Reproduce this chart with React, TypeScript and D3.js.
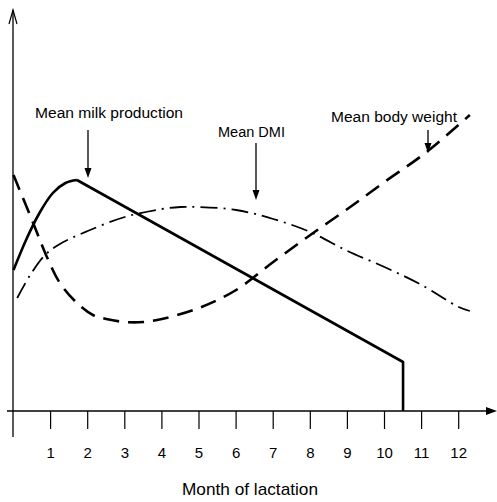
import React from "react";
import * as d3 from "d3";

const months = [1, 2, 3, 4, 5, 6, 7, 8, 9, 10, 11, 12];

// Mean milk production (relative units): rising phase, then linear decline, dry-off at 10.5
const milkRiseX = [0, 0.35, 0.7, 1.06, 1.4, 1.71];
const milkRiseY = [35.25, 43, 49.5, 54.5, 57, 57.75];
const milkFallX = [1.71, 10.5, 10.5];
const milkFallY = [57.75, 12.25, 0];

// Mean DMI
const dmiX = [0.1, 0.45, 0.85, 1.25, 2, 3, 4, 4.5, 5, 6, 7, 8, 9, 10, 11, 12, 12.3];
const dmiY = [28.25, 34, 39, 41.75, 45, 48.5, 50.5, 51, 51, 50.25, 48, 44.75, 40, 36, 31.5, 26, 25];

// Mean body weight
const bwX = [0, 0.53, 0.9, 1.25, 1.71, 2.14, 2.5, 3, 3.5, 4, 5, 6, 7, 8, 9, 10, 11.1, 12.3];
const bwY = [59, 47, 38.5, 32, 27, 24, 23, 22.25, 22.25, 23, 25.75, 30.25, 37.25, 44, 50.5, 57.25, 64.5, 74];

const W = 497;
const H = 502;
const FONT = "'Liberation Sans', Arial, sans-serif";

export default function App() {
  const x = d3.scaleLinear().domain([0, 12]).range([13.5, 458.7]);
  const y = d3.scaleLinear().domain([0, 100]).range([411, 11]);

  const zip = (a: number[], b: number[]) => a.map((v, i) => [v, b[i]] as [number, number]);
  const smooth = d3.line<[number, number]>().x(d => x(d[0])).y(d => y(d[1])).curve(d3.curveMonotoneX);
  const straight = d3.line<[number, number]>().x(d => x(d[0])).y(d => y(d[1]));
  const cr = d3.line<[number, number]>().x(d => x(d[0])).y(d => y(d[1])).curve(d3.curveCatmullRom.alpha(0.5));

  const axisY = y(0);
  const ax = x(0) - 0.5;

  const arrowDown = (px: number, y1: number, y2: number) => (
    <g>
      <line x1={px} x2={px} y1={y1} y2={y2 - 8} stroke="#000" strokeWidth={1.3} />
      <polygon points={`${px - 3.5},${y2 - 10} ${px + 3.5},${y2 - 10} ${px},${y2}`} fill="#000" />
    </g>
  );

  return (
    <svg width={W} height={H} style={{ position: "absolute", left: 0, top: 0, background: "#fff" }}>
      <rect width={W} height={H} fill="#fff" />
      {/* y axis */}
      <line x1={ax} x2={ax} y1={10} y2={437} stroke="#000" strokeWidth={1.3} />
      <path d={`M${ax - 4},${24} L${ax},${10} L${ax + 4},${24}`} fill="none" stroke="#000" strokeWidth={1.2} />
      {/* x axis */}
      <line x1={7} x2={488} y1={axisY} y2={axisY} stroke="#000" strokeWidth={1.3} />
      <polygon points={`486,${axisY - 4} 497,${axisY} 486,${axisY + 4}`} fill="#000" />
      {months.map(m => (
        <g key={m}>
          <line x1={x(m)} x2={x(m)} y1={axisY} y2={axisY + 18} stroke="#000" strokeWidth={1.2} />
          <text x={x(m)} y={458} textAnchor="middle" fontFamily={FONT} fontSize={15} fill="#000">{m}</text>
        </g>
      ))}
      <text x={250} y={495} textAnchor="middle" fontFamily={FONT} fontSize={17} textLength={136} lengthAdjust="spacingAndGlyphs" fill="#000">Month of lactation</text>

      {/* curves */}
      <path d={cr(zip(dmiX, dmiY)) || ""} fill="none" stroke="#000" strokeWidth={1.8} strokeDasharray="17 6 2 6" />
      <path d={cr(zip(bwX, bwY)) || ""} fill="none" stroke="#000" strokeWidth={2.6} strokeDasharray="16 9" />
      <path d={smooth(zip(milkRiseX, milkRiseY)) || ""} fill="none" stroke="#000" strokeWidth={2.6} strokeLinejoin="round" />
      <path d={straight(zip(milkFallX, milkFallY)) || ""} fill="none" stroke="#000" strokeWidth={2.6} strokeLinejoin="round" />

      {/* labels */}
      <text x={35} y={118} fontFamily={FONT} fontSize={14} textLength={148} lengthAdjust="spacingAndGlyphs" fill="#000">Mean milk production</text>
      {arrowDown(88, 130, 178)}
      <text x={218} y={137} fontFamily={FONT} fontSize={14} textLength={67} lengthAdjust="spacingAndGlyphs" fill="#000">Mean DMI</text>
      {arrowDown(256, 143, 200)}
      <text x={331} y={122} fontFamily={FONT} fontSize={14} textLength={126} lengthAdjust="spacingAndGlyphs" fill="#000">Mean body weight</text>
      {arrowDown(428, 130, 153)}
    </svg>
  );
}
